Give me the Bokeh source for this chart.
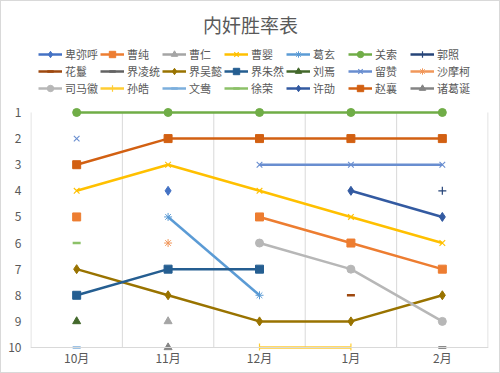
from bokeh.plotting import figure
from bokeh.models import Range1d, FixedTicker, Legend, LegendItem, Span, ColumnDataSource, Label
from bokeh.embed import file_html
from bokeh.resources import INLINE

nan = float("nan")

# ---- data ----
title_text = "内奸胜率表"
months = ["10月", "11月", "12月", "1月", "2月"]
rank_ticks = [1, 2, 3, 4, 5, 6, 7, 8, 9, 10]

names = ["卑弥呼", "曹纯", "曹仁", "曹婴", "葛玄", "关索", "郭照",
         "花鬘", "界凌统", "界吴懿", "界朱然", "刘焉", "留赞", "沙摩柯",
         "司马徽", "孙皓", "文鸯", "徐荣", "许劭", "赵襄", "诸葛诞"]

beimihu      = [nan, 4, nan, nan, nan]
caochun      = [5, nan, 5, 6, 7]
caoren       = [nan, 9, nan, nan, nan]
caoying      = [4, 3, 4, 5, 6]
gexuan       = [nan, 5, 8, nan, nan]
guansuo      = [1, 1, 1, 1, 1]
guozhao      = [nan, nan, nan, nan, 4]
huaman       = [nan, nan, nan, 8, nan]
jie_lingtong = [nan, nan, nan, nan, 10]
jie_wuyi     = [7, 8, 9, 9, 8]
jie_zhuran   = [8, 7, 7, nan, nan]
liuyan       = [9, nan, nan, nan, nan]
liuzan       = [2, nan, 3, 3, 3]
shamoke      = [nan, 6, nan, nan, nan]
simahui      = [nan, nan, 6, 7, 9]
sunhao       = [nan, nan, 10, 10, nan]
wenyang      = [10, nan, nan, nan, nan]
xurong       = [6, nan, nan, nan, nan]
xushao       = [nan, nan, nan, 4, 5]
zhaoxiang    = [3, 2, 2, 2, 2]
zhugedan     = [nan, 10, nan, nan, nan]

series = [beimihu, caochun, caoren, caoying, gexuan, guansuo, guozhao,
          huaman, jie_lingtong, jie_wuyi, jie_zhuran, liuyan, liuzan, shamoke,
          simahui, sunhao, wenyang, xurong, xushao, zhaoxiang, zhugedan]

colors = ["#4472C4", "#ED7D31", "#A5A5A5", "#FFC000", "#5B9BD5", "#70AD47", "#264478",
          "#9E480E", "#636363", "#997300", "#255E91", "#43682B", "#698ED0", "#F1975A",
          "#B7B7B7", "#FFCD33", "#7CAFDD", "#8CC168", "#335AA1", "#D26012", "#848484"]

markers = ["diamond", "square", "triangle", "x", "asterisk", "circle", "cross",
           "dash", "dash", "diamond", "square", "triangle", "x", "asterisk",
           "circle", "cross", "dash", "dash", "diamond", "square", "triangle"]

FONT = "Noto Sans CJK SC"
TXT = "#595959"
GRID = "#D9D9D9"

n = len(months)
W, H = 500, 373
p = figure(width=W, height=H, output_backend="svg", toolbar_location=None,
           x_range=Range1d(-0.505, n - 0.495), y_range=Range1d(10.115, -3.25),
           min_border_left=29, min_border_right=13, min_border_top=0, min_border_bottom=24)
p.styles = {"border": "1px solid #D9D9D9", "box-sizing": "border-box"}
p.xgrid.visible = False
p.ygrid.visible = False
p.outline_line_color = None
p.background_fill_color = "white"
p.border_fill_color = "white"

xs = list(range(n))

# vertical gridlines on category boundaries, spanning the value axis
bx = [i - 0.5 for i in range(n + 1)]
p.segment(x0=bx, y0=[min(rank_ticks)] * len(bx), x1=bx, y1=[max(rank_ticks)] * len(bx),
          line_color=GRID, line_width=1)
p.add_layout(Span(location=max(rank_ticks), dimension="width", line_color=GRID, line_width=1))

sizes = {"diamond": 9, "square": 8, "triangle": 8, "x": 8, "asterisk": 8,
         "circle": 8, "cross": 8, "dash": 8}
widths = {"dash": 2.5, "x": 1.1, "asterisk": 1.0, "cross": 1.2}

items = []
for name, vals, c, m in zip(names, series, colors, markers):
    src = ColumnDataSource(dict(x=xs, y=vals))
    lr = p.line("x", "y", source=src, line_color=c, line_width=2.5)
    sr = p.scatter("x", "y", source=src, marker=m, size=sizes[m],
                   fill_color=c, line_color=c, line_width=widths.get(m, 1))
    items.append(LegendItem(label=name, renderers=[lr, sr]))

# axes
p.xaxis.ticker = FixedTicker(ticks=xs)
p.xaxis.major_label_overrides = {i: m for i, m in enumerate(months)}
p.yaxis.ticker = FixedTicker(ticks=rank_ticks)
for ax in (p.xaxis, p.yaxis):
    ax.axis_line_color = None
    ax.major_tick_line_color = None
    ax.minor_tick_line_color = None
    ax.major_tick_out = 0
    ax.major_tick_in = 0
    ax.minor_tick_out = 0
    ax.major_label_text_font = FONT
    ax.major_label_text_font_size = "12px"
    ax.major_label_text_color = TXT
p.xaxis.major_label_standoff = -2
p.yaxis.major_label_standoff = 9

legend = Legend(items=items, orientation="horizontal", ncols=7, location=(8, 254),
                glyph_width=24, glyph_height=16, label_height=16, label_width=34,
                label_standoff=3, spacing=1, padding=0, margin=0,
                border_line_color=None, background_fill_alpha=0,
                label_text_font=FONT, label_text_font_size="11px", label_text_color=TXT)
p.add_layout(legend, "center")

title = Label(x=(n - 1) / 2, y=p.y_range.end, text=title_text, x_offset=-9, y_offset=-23,
              text_align="center", text_baseline="middle", text_font=FONT,
              text_font_size="19px", text_color=TXT)
p.add_layout(title)

open("out.html", "w").write(file_html(p, INLINE))
